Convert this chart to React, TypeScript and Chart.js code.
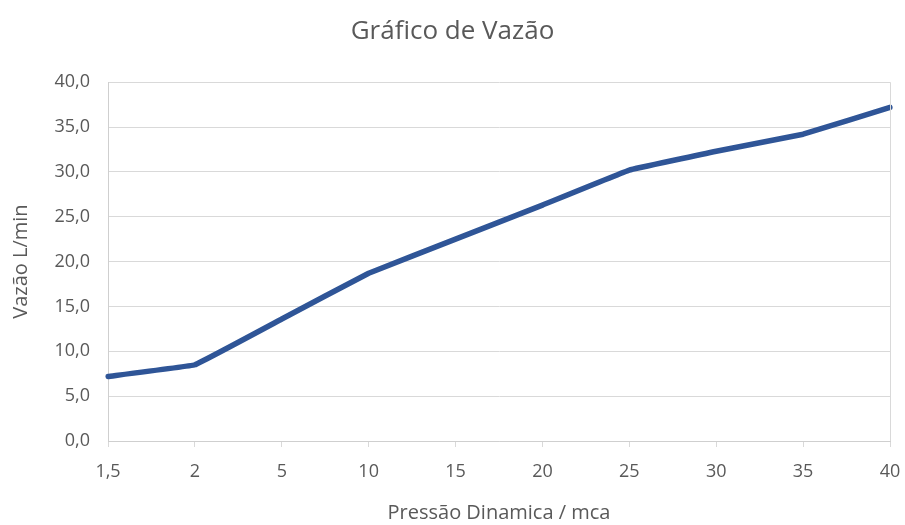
import React, { useEffect, useRef } from "react";
import { Chart, registerables } from "chart.js";

Chart.register(...registerables);

const categories = ["1,5", "2", "5", "10", "15", "20", "25", "30", "35", "40"];
const vazao = [7.2, 8.5, 13.6, 18.7, 22.5, 26.3, 30.2, 32.3, 34.2, 37.2];
const chartTitle = "Gráfico de Vazão";
const xTitle = "Pressão Dinamica / mca";
const yTitle = "Vazão L/min";

const FONT = "'Open Sans', 'Noto Sans', sans-serif";
const TEXT = "#595959";
const GRID = "#D9D9D9";

const rightBorder = {
  id: "rightBorder",
  afterDraw(chart: any) {
    const { ctx, chartArea } = chart;
    ctx.save();
    ctx.strokeStyle = GRID;
    ctx.lineWidth = 1;
    ctx.beginPath();
    ctx.moveTo(chartArea.right + 0.5, chartArea.top);
    ctx.lineTo(chartArea.right + 0.5, chartArea.bottom);
    ctx.stroke();
    ctx.restore();
  },
};

export default function App() {
  const ref = useRef<HTMLCanvasElement | null>(null);
  useEffect(() => {
    document.body.style.margin = "0";
    const chart = new Chart(ref.current as HTMLCanvasElement, {
      type: "line",
      data: {
        labels: categories,
        datasets: [
          {
            data: vazao,
            borderColor: "#2F5597",
            backgroundColor: "#2F5597",
            borderWidth: 5.5,
            pointRadius: 0,
            tension: 0.05,
            borderJoinStyle: "round",
            borderCapStyle: "round",
          },
        ],
      },
      options: {
        animation: false,
        responsive: false,
        layout: { padding: { left: 0, right: 0, top: 0, bottom: 0 } },
        plugins: {
          legend: { display: false },
          tooltip: { enabled: false },
          title: {
            display: true,
            text: chartTitle,
            color: TEXT,
            font: { family: FONT, size: 26, weight: "normal" },
            padding: { top: 16, bottom: 35 },
          },
        },
        scales: {
          x: {
            offset: false,
            grid: {
              display: true,
              drawOnChartArea: false,
              drawTicks: true,
              tickLength: 6,
              color: GRID,
            },
            border: { display: true, color: "#CFCFCF" },
            ticks: {
              color: TEXT,
              font: { family: FONT, size: 18 },
              padding: 14,
              maxRotation: 0,
              autoSkip: false,
            },
            title: {
              display: true,
              text: xTitle,
              color: TEXT,
              font: { family: FONT, size: 20 },
              padding: { top: 10, bottom: 0 },
            },
            afterFit: (s: any) => {
              s.height = 84;
              s.paddingRight = 15;
            },
          },
          y: {
            min: 0,
            max: 40,
            grid: { color: GRID, drawTicks: false, tickLength: 0 },
            border: { display: true, color: "#CFCFCF" },
            ticks: {
              stepSize: 5,
              color: TEXT,
              font: { family: FONT, size: 18 },
              padding: 18,
              callback: (v: any) => Number(v).toFixed(1).replace(".", ","),
            },
            title: {
              display: true,
              text: yTitle,
              color: TEXT,
              font: { family: FONT, size: 20 },
              padding: { top: 9, bottom: 0 },
            },
            afterFit: (s: any) => {
              s.width = 108;
            },
          },
        },
      },
      plugins: [rightBorder],
    } as any);
    return () => chart.destroy();
  }, []);
  return <canvas ref={ref} width={905} height={525} style={{ display: "block" }} />;
}
